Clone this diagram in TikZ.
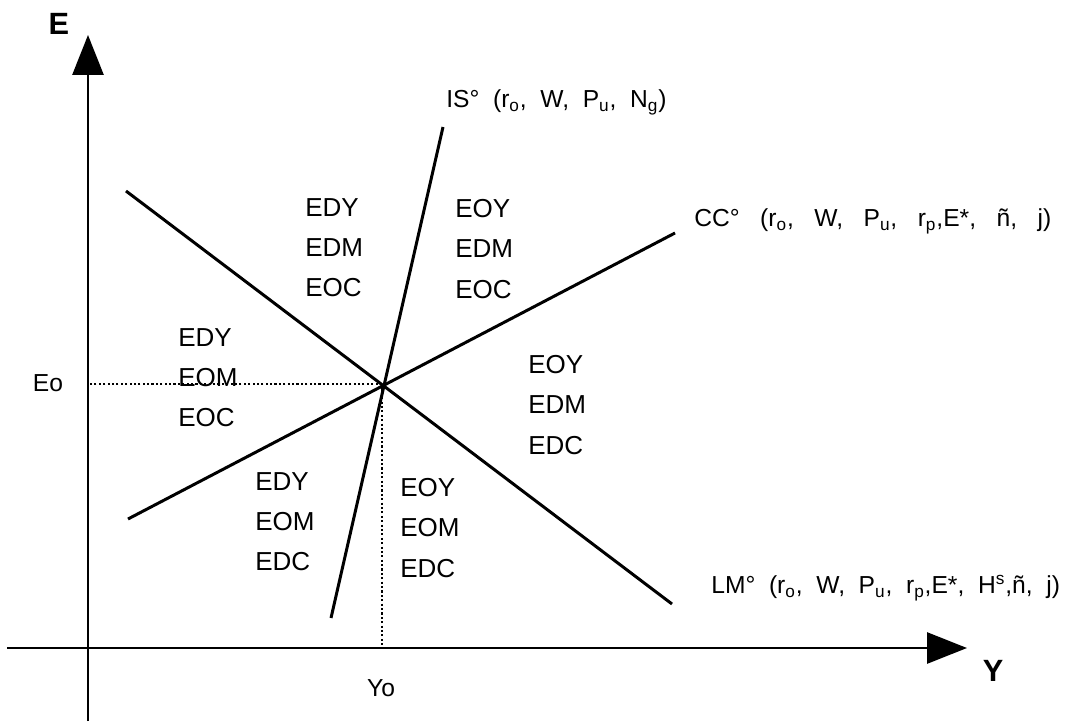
\documentclass[tikz,border=0pt]{standalone}
\usepackage{fontspec}
\setmainfont{Liberation Sans}
\usetikzlibrary{arrows.meta}

\tikzset{
  axis/.style={line width=1.6pt, -{Triangle[length=0.8cm,width=0.62cm]}},
  curve/.style={line width=1.7pt},
  guide/.style={line width=0.7pt, dash pattern=on 1.2pt off 1.3pt},
  region/.style={anchor=west, align=left, inner sep=0pt, font=\fontsize{14.8}{22.8}\selectfont},
  curvelabel/.style={anchor=west, inner sep=0pt, font=\fontsize{14}{16}\selectfont},
  axislabel/.style={inner sep=0pt, font=\fontsize{17.5}{20}\selectfont\bfseries},
  level/.style={inner sep=0pt, font=\fontsize{14}{16}\selectfont}
}

\begin{document}
\begin{tikzpicture}[x=0.02cm, y=-0.02cm]
  \useasboundingbox (0,0) rectangle (1077,723);

  % axes
  \coordinate (origin) at (88,648);
  \coordinate (Y-start) at (7,648);
  \coordinate (Y-tip) at (967,648);
  \coordinate (E-start) at (88,721);
  \coordinate (E-tip) at (88,35);
  \draw[axis] (Y-start) -- (Y-tip);
  \draw[axis] (E-start) -- (E-tip);
  \node[axislabel] (E-label) at (59,24) {E};
  \node[axislabel] (Y-label) at (993,671) {Y};

  % curves
  \coordinate (eq) at (382,384);
  \coordinate (IS-lo) at (331,618);
  \coordinate (IS-hi) at (443,127);
  \coordinate (LM-hi) at (126,191);
  \coordinate (LM-lo) at (672,604);
  \coordinate (CC-lo) at (128,519);
  \coordinate (CC-hi) at (675,233);
  \draw[curve] (IS-lo) -- (IS-hi);
  \draw[curve] (LM-hi) -- (LM-lo);
  \draw[curve] (CC-lo) -- (CC-hi);

  % equilibrium levels
  \draw[guide] (eq) -- (eq -| origin);
  \draw[guide] (eq) -- (eq |- origin);
  \node[level] (Eo) at (48,383) {Eo};
  \node[level] (Yo) at (381,688) {Yo};

  \node[curvelabel] (IS-label) at (446,102) {IS°~ (r\textsubscript{o},~ W,~ P\textsubscript{u},~ N\textsubscript{g})};
  \node[curvelabel] (CC-label) at (694,221) {CC°~~ (r\textsubscript{o},~~ W,~~ P\textsubscript{u},~~ r\textsubscript{p},E*,~~ ñ,~~ j)};
  \node[curvelabel] (LM-label) at (711,588) {LM°~ (r\textsubscript{o},~ W,~ P\textsubscript{u},~ r\textsubscript{p},E*,~ H\textsuperscript{s},ñ,~ j)};

  % regions
  \node[region] (reg-n)  at (305,248) {EDY\\EDM\\EOC};
  \node[region] (reg-ne) at (455,249) {EOY\\EDM\\EOC};
  \node[region] (reg-w)  at (178,378) {EDY\\EOM\\EOC};
  \node[region] (reg-e)  at (528,405) {EOY\\EDM\\EDC};
  \node[region] (reg-sw) at (255,522) {EDY\\EOM\\EDC};
  \node[region] (reg-s)  at (400,528) {EOY\\EOM\\EDC};
\end{tikzpicture}
\end{document}
